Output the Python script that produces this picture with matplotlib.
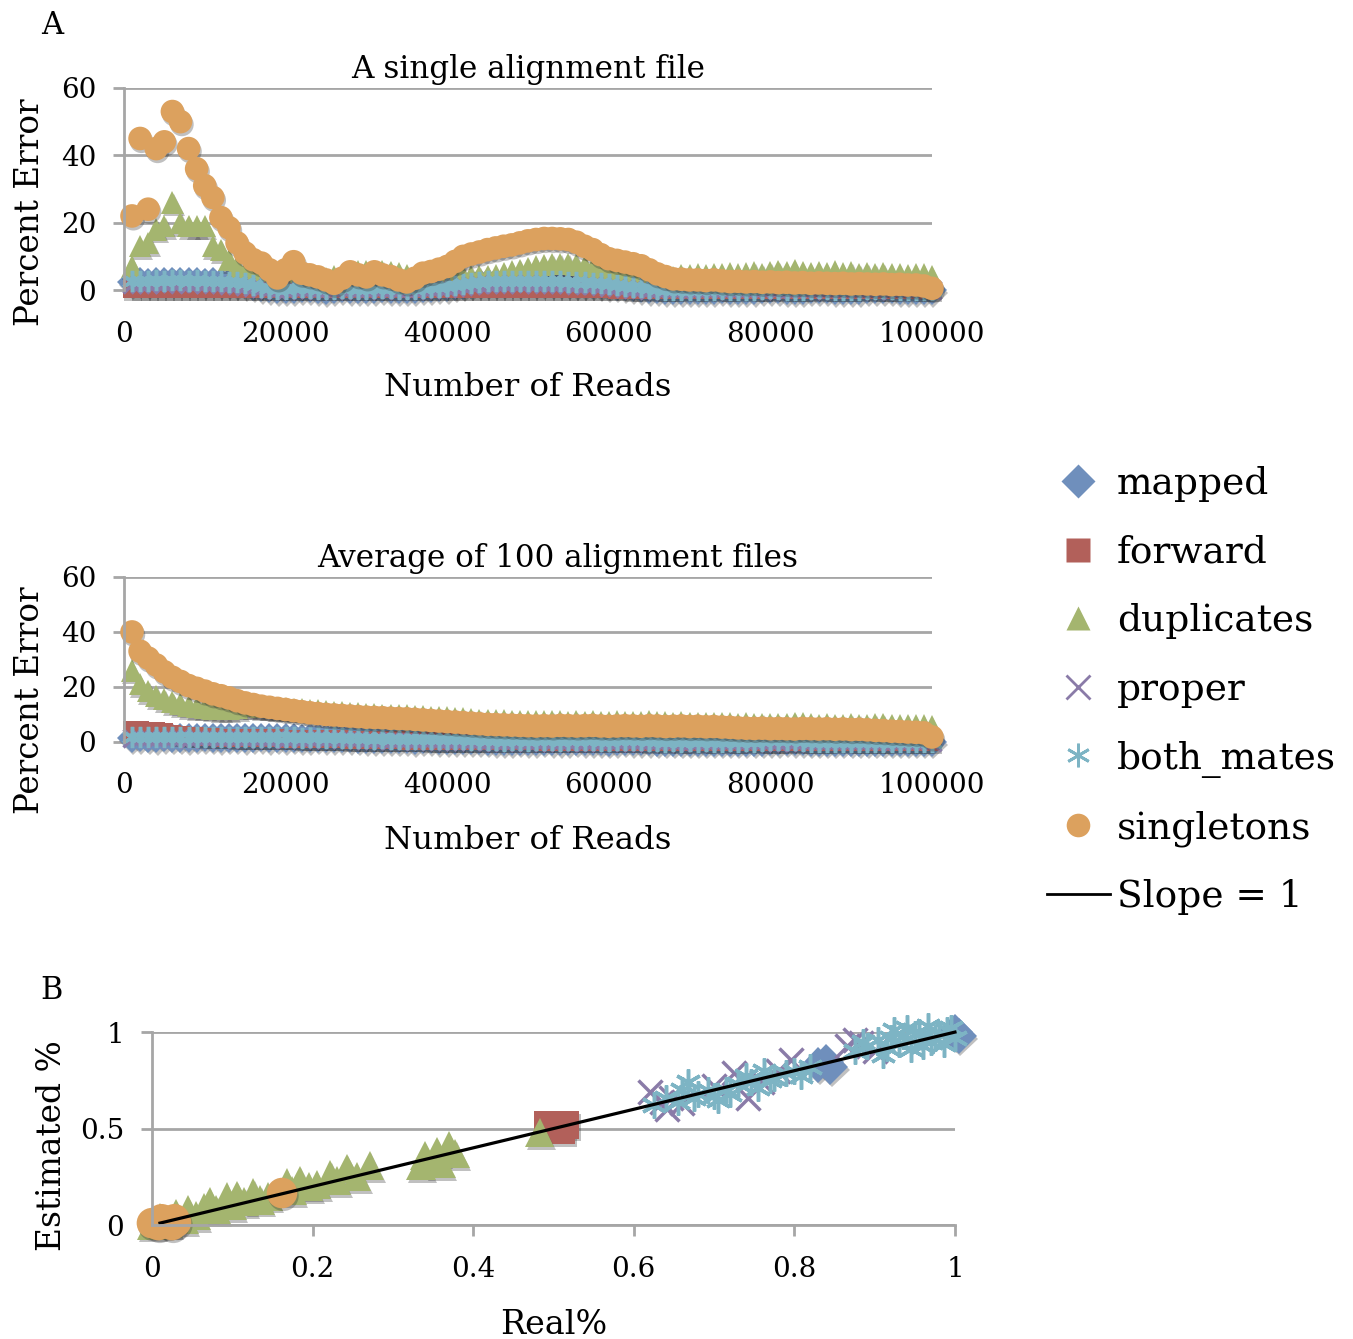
import numpy as np
import matplotlib
matplotlib.use("Agg")
import matplotlib.pyplot as plt
import matplotlib.patheffects as pe
from matplotlib.lines import Line2D

plt.rcParams['font.family'] = ['DejaVu Serif']

# ---- data: percent error vs number of reads (one point per 1000 reads) ----
reads = np.arange(1000, 100001, 1000)

single_singletons = [
    22, 45, 24, 42, 44, 53, 50, 42, 36, 31,
    27.5, 21.5, 18.5, 14, 11, 9, 8, 6, 3.6, 6,
    8.4, 5, 4.5, 3.9, 3, 2, 3.5, 5.4, 4.5, 3.9,
    5.4, 4.5, 4, 3, 2.4, 3.5, 5, 5.5, 6.2, 7,
    8.5, 10, 10.7, 11.3, 12, 12.5, 13, 13.4, 14, 14.6,
    15, 15.3, 15.3, 15.2, 15, 14.2, 13, 12, 10.5, 9.3,
    8.8, 8.3, 7.8, 7.2, 6, 4.8, 4, 3.3, 3.2, 3,
    3, 2.8, 3, 2.7, 2.5, 2.6, 2.4, 2.5, 2.3, 2.4,
    2.2, 2.3, 2.1, 2.2, 2, 2.1, 2, 1.9, 2, 1.8,
    1.9, 1.8, 1.7, 1.8, 1.6, 1.7, 1.5, 1.5, 1.2, 0.5]
single_duplicates = [
    7, 13, 14, 18, 19, 26, 20, 19, 19, 19,
    13, 12, 9, 7, 5.4, 4.5, 4, 3.5, 3, 3,
    3.5, 3.5, 3, 3, 3.5, 4, 4.5, 5, 5.5, 5.7,
    5.5, 5.7, 5.3, 5, 4.5, 4, 3.8, 3.8, 4, 4.2,
    4.2, 4, 4, 4, 4.2, 4.4, 5, 5.5, 6, 6.6,
    7, 7.4, 7.7, 7.8, 7.8, 7.5, 7, 6.5, 6, 5.5,
    5.2, 5, 4.8, 4.6, 4.4, 4.2, 4, 3.8, 4.5, 4.3,
    4.6, 4.4, 4.8, 4.7, 5, 4.6, 4.9, 5.2, 4.8, 5.3,
    5.6, 5.2, 5.8, 5.3, 5, 5.4, 5.1, 5.5, 4.9, 5.2,
    4.8, 5, 4.7, 4.9, 4.6, 4.8, 4.5, 4.7, 4.6, 4.2]
single_both_mates = [
    2.7, 2.8, 2.6, 2.9, 2.8, 3.0, 2.9, 2.8, 2.9, 2.7,
    2.8, 2.6, 2.5, 2.3, 2.0, 1.6, 1.0, 0.6, 0.4, 0.3,
    0.5, 0.8, 0.6, 0.3, 0.2, 0.4, 0.6, 0.5, 0.3, 0.3,
    0.5, 0.7, 0.5, 0.3, 0.3, 0.4, 0.6, 0.8, 1.0, 1.2,
    1.5, 1.9, 2.2, 2.5, 2.6, 2.7, 2.7, 2.8, 2.7, 2.8,
    2.7, 2.7, 2.6, 2.6, 2.5, 2.4, 2.3, 2.2, 2.0, 1.8,
    1.6, 1.3, 1.0, 0.8, 0.6, 0.3, 0.1, 0.0, 0.0, 0.0,
    0.1, 0.0, 0.0, 0.2, 0.1, 0.0, 0.0, 0.1, 0.3, 0.5,
    0.3, 0.1, 0.0, 0.1, 0.4, 0.5, 0.4, 0.1, 0.0, 0.0,
    0.1, 0.2, 0.3, 0.5, 0.3, 0.1, 0.0, 0.0, 0.1, 0.0]
single_mapped = [
    2.3, 2.4, 2.2, 2.5, 2.4, 2.6, 2.5, 2.4, 2.5, 2.3,
    2.4, 2.2, 2.1, 1.9, 1.6, 1.2, 0.7, 0.4, 0.2, 0.1,
    0.3, 0.5, 0.4, 0.1, 0.0, 0.2, 0.4, 0.3, 0.1, 0.1,
    0.3, 0.4, 0.3, 0.1, 0.1, 0.2, 0.4, 0.5, 0.7, 0.9,
    1.2, 1.5, 1.8, 2.1, 2.2, 2.3, 2.3, 2.4, 2.3, 2.4,
    2.3, 2.3, 2.2, 2.2, 2.1, 2.0, 1.9, 1.8, 1.6, 1.4,
    1.2, 1.0, 0.7, 0.5, 0.3, 0.1, 0.0, 0.0, 0.0, 0.0,
    0.0, 0.0, 0.0, 0.1, 0.0, 0.0, 0.0, 0.0, 0.2, 0.3,
    0.2, 0.0, 0.0, 0.0, 0.2, 0.3, 0.2, 0.0, 0.0, 0.0,
    0.0, 0.1, 0.2, 0.3, 0.2, 0.0, 0.0, 0.0, 0.0, 0.0]
single_proper = [
    1.8, 1.9, 1.7, 2.0, 1.9, 2.1, 2.0, 1.9, 2.0, 1.8,
    1.9, 1.7, 1.6, 1.4, 1.2, 0.9, 0.5, 0.3, 0.1, 0.0,
    0.2, 0.4, 0.3, 0.0, 0.0, 0.1, 0.3, 0.2, 0.0, 0.0,
    0.2, 0.3, 0.2, 0.0, 0.0, 0.1, 0.3, 0.4, 0.5, 0.7,
    0.9, 1.2, 1.5, 1.7, 1.8, 1.9, 1.9, 2.0, 1.9, 2.0,
    1.9, 1.9, 1.8, 1.8, 1.7, 1.6, 1.5, 1.4, 1.2, 1.0,
    0.8, 0.6, 0.4, 0.2, 0.1, 0.0, 0.0, 0.0, 0.0, 0.0,
    0.0, 0.0, 0.0, 0.0, 0.0, 0.0, 0.0, 0.0, 0.1, 0.2,
    0.1, 0.0, 0.0, 0.0, 0.1, 0.2, 0.1, 0.0, 0.0, 0.0,
    0.0, 0.0, 0.1, 0.2, 0.1, 0.0, 0.0, 0.0, 0.0, 0.0]
single_forward = [
    0.3, 0.2, 0.3, 0.3, 0.2, 0.3, 0.2, 0.3, 0.3, 0.2,
    0.3, 0.2, 0.3, 0.2, 0.2, 0.3, 0.2, 0.2, 0.3, 0.2,
    0.2, 0.3, 0.2, 0.2, 0.3, 0.2, 0.2, 0.3, 0.2, 0.2,
    0.3, 0.2, 0.2, 0.3, 0.2, 0.2, 0.3, 0.2, 0.2, 0.3,
    0.2, 0.3, 0.2, 0.3, 0.3, 0.2, 0.3, 0.3, 0.2, 0.3,
    0.3, 0.2, 0.3, 0.2, 0.3, 0.2, 0.2, 0.3, 0.2, 0.2,
    0.1, 0.1, 0.0, 0.0, 0.1, 0.0, 0.0, 0.0, 0.0, 0.1,
    0.0, 0.0, 0.1, 0.0, 0.0, 0.0, 0.1, 0.0, 0.0, 0.0,
    0.1, 0.0, 0.0, 0.0, 0.0, 0.1, 0.0, 0.0, 0.0, 0.0,
    0.0, 0.1, 0.0, 0.0, 0.0, 0.0, 0.1, 0.0, 0.0, 0.0]

avg_singletons = [
    40, 33, 30.5, 28, 25.5, 23.5, 22, 20.5, 19.5, 18.5,
    17.5, 16.8, 16, 15, 14.2, 13.6, 13, 12.6, 12.2, 11.8,
    11.4, 11, 10.6, 10.3, 10, 9.8, 9.6, 9.4, 9.2, 9,
    8.9, 8.8, 8.6, 8.5, 8.4, 8.2, 8, 7.8, 7.6, 7.4,
    7.2, 7, 6.8, 6.6, 6.4, 6.3, 6.2, 6.1, 6, 5.9,
    5.8, 5.9, 5.8, 6, 5.9, 5.8, 5.9, 6, 5.8, 5.7,
    5.8, 5.9, 5.8, 5.7, 5.9, 5.8, 5.6, 5.7, 5.8, 5.6,
    5.7, 5.5, 5.6, 5.4, 5.3, 5.1, 5, 4.9, 5, 4.8,
    4.9, 4.8, 4.7, 4.9, 4.8, 4.7, 4.8, 4.6, 4.7, 4.5,
    4.6, 4.4, 4.2, 4.1, 3.9, 3.8, 3.6, 3.5, 3.3, 1.8]
avg_duplicates = [
    26, 21, 18.5, 16.7, 15.5, 14.5, 13.8, 13.2, 12.8, 12.5,
    12.2, 12, 12, 12.3, 13, 13, 12.8, 12.6, 12.4, 12.2,
    12, 11.8, 11.6, 11.4, 11.2, 11, 10.8, 10.6, 10.4, 10.2,
    10, 9.9, 9.8, 9.7, 9.6, 9.5, 9.3, 9.1, 9, 8.9,
    8.7, 8.5, 8.3, 8.1, 8, 7.9, 7.8, 7.7, 7.6, 7.5,
    7.5, 7.4, 7.6, 7.4, 7.3, 7.5, 7.3, 7.4, 7.2, 7.3,
    7.4, 7.2, 7.3, 7.1, 7.6, 7.2, 7.1, 7, 7.1, 6.9,
    7, 6.8, 6.9, 6.8, 6.7, 6.6, 6.8, 6.5, 6.6, 6.4,
    6.5, 6.4, 7, 6.9, 6.5, 6.3, 6.4, 6.3, 6.2, 6.4,
    6.3, 6.2, 6.5, 6.4, 6.2, 6.1, 6.3, 6.2, 6, 5.8]
avg_both_mates = [
    1.8, 1.9, 1.8, 1.7, 1.9, 1.8, 1.8, 1.7, 1.8, 1.9,
    1.8, 1.7, 1.8, 1.8, 1.7, 1.8, 1.9, 1.7, 1.8, 1.7,
    1.8, 1.6, 1.7, 1.8, 1.6, 1.7, 1.5, 1.6, 1.4, 1.3,
    1.2, 1.3, 1.2, 1.1, 1.2, 1.0, 1.1, 1.2, 1.0, 0.9,
    1.0, 0.9, 0.8, 0.9, 0.7, 0.6, 0.5, 0.6, 0.7, 0.5,
    0.6, 0.7, 0.6, 0.5, 0.6, 0.7, 0.6, 0.6, 0.3, 0.2,
    0.6, 0.7, 0.6, 0.6, 0.5, 0.2, 0.1, 0.2, 0.1, 0.2,
    0.1, 0.2, 0.1, 0.1, 0.2, 0.1, 0.2, 0.1, 0.2, 0.6,
    0.6, 0.7, 0.6, 0.5, 0.1, 0.0, 0.1, 0.1, 0.0, 0.1,
    0.0, 0.1, 0.0, 0.0, 0.1, 0.0, 0.0, 0.1, 0.0, 0.0]
avg_mapped = [
    1.5, 1.6, 1.5, 1.4, 1.6, 1.5, 1.5, 1.4, 1.5, 1.6,
    1.5, 1.4, 1.5, 1.5, 1.4, 1.5, 1.6, 1.4, 1.5, 1.4,
    1.5, 1.3, 1.4, 1.5, 1.3, 1.4, 1.2, 1.3, 1.1, 1.0,
    0.9, 1.0, 0.9, 0.8, 0.9, 0.7, 0.8, 0.9, 0.7, 0.6,
    0.7, 0.6, 0.5, 0.6, 0.4, 0.3, 0.2, 0.3, 0.4, 0.2,
    0.3, 0.4, 0.3, 0.2, 0.3, 0.4, 0.3, 0.3, 0.1, 0.0,
    0.3, 0.4, 0.3, 0.3, 0.2, 0.0, 0.0, 0.0, 0.0, 0.0,
    0.0, 0.0, 0.0, 0.0, 0.0, 0.0, 0.0, 0.0, 0.0, 0.3,
    0.3, 0.4, 0.3, 0.2, 0.0, 0.0, 0.0, 0.0, 0.0, 0.0,
    0.0, 0.0, 0.0, 0.0, 0.0, 0.0, 0.0, 0.0, 0.0, 0.0]
avg_proper = [
    1.3, 1.4, 1.3, 1.2, 1.4, 1.3, 1.3, 1.2, 1.3, 1.4,
    1.3, 1.2, 1.3, 1.3, 1.2, 1.3, 1.4, 1.2, 1.3, 1.2,
    1.3, 1.1, 1.2, 1.3, 1.1, 1.2, 1.0, 1.1, 0.9, 0.8,
    0.7, 0.8, 0.7, 0.6, 0.7, 0.5, 0.6, 0.7, 0.5, 0.4,
    0.5, 0.4, 0.3, 0.4, 0.2, 0.1, 0.0, 0.1, 0.2, 0.0,
    0.1, 0.2, 0.1, 0.0, 0.1, 0.2, 0.1, 0.1, 0.0, 0.0,
    0.1, 0.2, 0.1, 0.1, 0.0, 0.0, 0.0, 0.0, 0.0, 0.0,
    0.0, 0.0, 0.0, 0.0, 0.0, 0.0, 0.0, 0.0, 0.0, 0.1,
    0.1, 0.2, 0.1, 0.0, 0.0, 0.0, 0.0, 0.0, 0.0, 0.0,
    0.0, 0.0, 0.0, 0.0, 0.0, 0.0, 0.0, 0.0, 0.0, 0.0]
avg_forward = [
    4.4, 4.2, 4.0, 3.8, 3.5, 3.0, 2.5, 2.2, 2.0, 1.8,
    1.7, 1.6, 1.6, 1.5, 1.5, 1.4, 1.4, 1.3, 1.3, 1.2,
    1.2, 1.1, 1.1, 1.0, 1.0, 0.9, 0.9, 0.8, 0.8, 0.7,
    0.7, 0.6, 0.6, 0.6, 0.5, 0.5, 0.5, 0.4, 0.4, 0.4,
    0.3, 0.3, 0.3, 0.3, 0.2, 0.2, 0.2, 0.2, 0.2, 0.2,
    0.2, 0.1, 0.2, 0.1, 0.2, 0.1, 0.1, 0.2, 0.1, 0.1,
    0.1, 0.1, 0.1, 0.1, 0.0, 0.1, 0.0, 0.1, 0.0, 0.0,
    0.1, 0.0, 0.0, 0.1, 0.0, 0.0, 0.0, 0.1, 0.0, 0.0,
    0.0, 0.0, 0.1, 0.0, 0.0, 0.0, 0.0, 0.0, 0.1, 0.0,
    0.0, 0.0, 0.0, 0.0, 0.0, 0.1, 0.0, 0.0, 0.0, 0.0]

# ---- data: estimated vs real fraction ----
mapped_real = [0.83, 0.84, 0.845, 1.0, 1.005]
mapped_est = [0.83, 0.845, 0.82, 1.0, 0.98]
forward_real = [0.493, 0.51, 0.50, 0.515]
forward_est = [0.52, 0.49, 0.505, 0.52]
duplicates_real = [0.0, 0.01, 0.02, 0.03, 0.04, 0.045, 0.055, 0.065, 0.072,
                   0.08, 0.093, 0.1, 0.106, 0.115, 0.126, 0.135, 0.145, 0.168,
                   0.175, 0.184, 0.195, 0.205, 0.222, 0.23, 0.243, 0.255, 0.271,
                   0.335, 0.34, 0.355, 0.36, 0.37, 0.378, 0.483]
duplicates_est = [0.0, 0.04, 0.01, 0.06, 0.03, 0.078, 0.05, 0.09, 0.12,
                  0.08, 0.145, 0.1, 0.155, 0.12, 0.166, 0.13, 0.15, 0.218,
                  0.18, 0.233, 0.2, 0.21, 0.26, 0.23, 0.295, 0.25, 0.31,
                  0.31, 0.36, 0.38, 0.32, 0.41, 0.37, 0.48]
proper_real = [0.62, 0.635, 0.642, 0.646, 0.66, 0.70, 0.725, 0.742, 0.76,
               0.78, 0.796, 0.865, 0.875, 0.883, 0.90]
proper_est = [0.69, 0.64, 0.60, 0.66, 0.63, 0.72, 0.79, 0.66, 0.74,
              0.80, 0.855, 0.93, 0.96, 0.943, 0.90]
both_mates_real = [0.625, 0.64, 0.655, 0.667, 0.68, 0.692, 0.705, 0.715, 0.73,
                   0.746, 0.755, 0.762, 0.775, 0.79, 0.808, 0.82,
                   0.66, 0.675, 0.70, 0.72, 0.74, 0.77, 0.80,
                   0.875, 0.89, 0.904, 0.915, 0.924, 0.935, 0.945, 0.955,
                   0.966, 0.975, 0.986, 0.995, 1.0, 0.91, 0.93, 0.95, 0.97, 0.99,
                   0.885, 0.92, 0.94, 0.96, 0.98]
both_mates_est = [0.62, 0.66, 0.64, 0.74, 0.68, 0.70, 0.65, 0.70, 0.73,
                  0.74, 0.71, 0.80, 0.76, 0.79, 0.77, 0.82,
                  0.70, 0.66, 0.67, 0.68, 0.77, 0.75, 0.80,
                  0.90, 0.93, 0.96, 0.92, 1.01, 0.98, 0.91, 1.00,
                  1.03, 0.97, 0.94, 1.02, 0.97, 0.88, 0.94, 0.99, 0.95, 1.01,
                  0.95, 0.97, 1.02, 0.93, 0.99]
singletons_real = [0.0, 0.008, 0.015, 0.02, 0.028, 0.03, 0.012, 0.025, 0.162]
singletons_est = [0.01, 0.0, 0.025, 0.01, 0.03, 0.015, 0.03, 0.0, 0.166]
slope_x = [0.01, 1.0]
slope_y = [0.01, 1.0]

names = ['mapped', 'forward', 'duplicates', 'proper', 'both_mates', 'singletons']
ASTER = (6, 2, 0)
STYLE = {
    'mapped': ('D', '#6F8FBC'),
    'forward': ('s', '#B2605A'),
    'duplicates': ('^', '#A4B56F'),
    'proper': ('x', '#8A7BA8'),
    'both_mates': (ASTER, '#7DB4C4'),
    'singletons': ('o', '#DCA15E'),
}
GRID = '#A6A6A6'
shadow = [pe.SimplePatchShadow(offset=(1, -2), shadow_rgbFace='#303030', alpha=0.3),
          pe.Normal()]


def put_series(ax, x, y, name, size):
    marker, color = STYLE[name]
    if name in ('proper', 'both_mates'):
        ax.plot(x, y, ls='none', marker=marker, ms=size * 0.85, mec=color,
                mew=2.5, clip_on=False)
    else:
        ax.plot(x, y, ls='none', marker=marker, ms=size, mfc=color, mec='none',
                clip_on=False, path_effects=shadow)


def style_axes(ax):
    for side in ('top', 'right', 'bottom'):
        ax.spines[side].set_visible(False)
    ax.spines['left'].set_color(GRID)
    ax.spines['left'].set_linewidth(2)
    ax.grid(axis='y', color=GRID, lw=2)
    ax.set_axisbelow(True)
    ax.tick_params(axis='y', length=8, width=2, color=GRID, pad=12, labelsize=20)


def reads_panel(rect, data, title, title_x, ylab_y, xlab_y):
    ax = fig.add_axes(rect)
    sizes = {'mapped': 15, 'forward': 13, 'duplicates': 16, 'proper': 16,
             'both_mates': 18, 'singletons': 17}
    for name in names:
        put_series(ax, reads, data[name], name, sizes[name])
    ax.set_xlim(0, 100000)
    ax.set_ylim(0, 60)
    ax.set_yticks([0, 20, 40, 60])
    ax.set_xticks([0, 20000, 40000, 60000, 80000, 100000])
    ax.set_xticklabels(['0', '20000', '40000', '60000', '80000', '100000'])
    style_axes(ax)
    ax.tick_params(axis='x', length=0, pad=22, labelsize=20)
    ax.set_title(title, fontsize=22.3, pad=7, x=title_x)
    ax.set_xlabel('Number of Reads', fontsize=23.3)
    ax.xaxis.set_label_coords(0.5, xlab_y)
    ax.set_ylabel('Percent Error', fontsize=23.5)
    ax.yaxis.set_label_coords(-0.097, ylab_y)
    return ax


fig = plt.figure(figsize=(13.53, 13.39), dpi=100)

single = {'mapped': single_mapped, 'forward': single_forward,
          'duplicates': single_duplicates, 'proper': single_proper,
          'both_mates': single_both_mates, 'singletons': single_singletons}
average = {'mapped': avg_mapped, 'forward': avg_forward,
           'duplicates': avg_duplicates, 'proper': avg_proper,
           'both_mates': avg_both_mates, 'singletons': avg_singletons}

reads_panel([0.0916, 0.7834, 0.5972, 0.1509], single,
            'A single alignment file', 0.5, 0.386, -0.405)
reads_panel([0.0916, 0.4459, 0.5972, 0.1232], average,
            'Average of 100 alignment files', 0.537, 0.255, -0.505)

# panel B
axb = fig.add_axes([0.1123, 0.0851, 0.5935, 0.1441])
b_data = {'mapped': (mapped_real, mapped_est),
          'forward': (forward_real, forward_est),
          'duplicates': (duplicates_real, duplicates_est),
          'proper': (proper_real, proper_est),
          'both_mates': (both_mates_real, both_mates_est),
          'singletons': (singletons_real, singletons_est)}
b_sizes = {'mapped': 18, 'forward': 20, 'duplicates': 21, 'proper': 20,
           'both_mates': 22, 'singletons': 22}
for name in names:
    put_series(axb, b_data[name][0], b_data[name][1], name, b_sizes[name])
axb.plot(slope_x, slope_y, color='black', lw=2.3, clip_on=False)
axb.set_xlim(0, 1)
axb.set_ylim(0, 1)
axb.set_xticks([0, 0.2, 0.4, 0.6, 0.8, 1.0])
axb.set_xticklabels(['0', '0.2', '0.4', '0.6', '0.8', '1'])
axb.set_yticks([0, 0.5, 1.0])
axb.set_yticklabels(['0', '0.5', '1'])
style_axes(axb)
axb.spines['bottom'].set_visible(True)
axb.spines['bottom'].set_color(GRID)
axb.spines['bottom'].set_linewidth(2)
axb.tick_params(axis='x', length=8, width=2, color=GRID, pad=14, labelsize=20)
axb.set_xlabel('Real%', fontsize=24)
axb.xaxis.set_label_coords(0.5, -0.435)
axb.set_ylabel('Estimated %', fontsize=23.7)
axb.yaxis.set_label_coords(-0.105, 0.414)

fig.text(0.0384, 0.9806, 'A', fontsize=22, ha='center', va='center')
fig.text(0.0384, 0.2606, 'B', fontsize=22, ha='center', va='center')

# legend
handles = []
for name in names:
    marker, color = STYLE[name]
    if name in ('proper', 'both_mates'):
        handles.append(Line2D([], [], ls='none', marker=marker, ms=17,
                              mec=color, mew=2))
    else:
        handles.append(Line2D([], [], ls='none', marker=marker, ms=17,
                              mfc=color, mec='none'))
handles.append(Line2D([], [], color='black', lw=2))
fig.legend(handles, names + ['Slope = 1'], loc='upper left',
           bbox_to_anchor=(1047 / 1353, 1 - 466 / 1339), frameon=False,
           fontsize=27, borderpad=0, handlelength=1.67, handletextpad=0.2,
           labelspacing=0.87, borderaxespad=0)

fig.savefig('out.png', dpi=100)
